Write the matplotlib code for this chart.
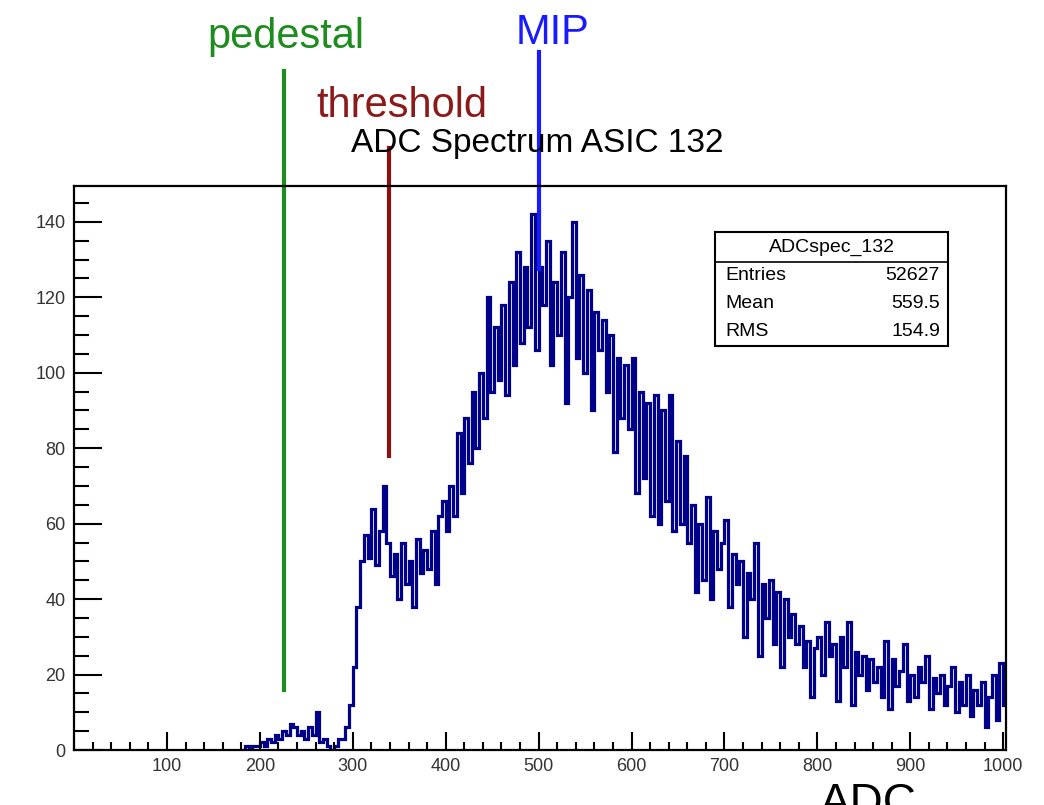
import numpy as np
import matplotlib
matplotlib.use("Agg")
import matplotlib.pyplot as plt
from matplotlib.ticker import MultipleLocator
from matplotlib.patches import Rectangle

plt.rcParams['font.family'] = ['Liberation Sans', 'DejaVu Sans']

# histogram: 4 ADC wide bins starting at 180
bin_width = 4
first_edge = 180
counts = [
    # 180 - 296
    0, 1, 0, 1, 1, 2, 1, 3, 2, 4, 3, 5, 4, 7, 6, 4, 5, 3, 6, 4,
    10, 2, 3, 1, 0, 1, 3, 3, 6, 12,
    # 300 - 396
    22, 38, 50, 57, 51, 64, 49, 58, 70, 55, 46, 52, 40, 55, 44, 50,
    38, 56, 47, 53, 48, 58, 44, 62, 66,
    # 400 - 496
    58, 70, 62, 84, 68, 88, 76, 95, 80, 100, 88, 120, 95, 112, 98, 118,
    94, 124, 102, 132, 108, 128, 112, 142, 106,
    # 500 - 596
    128, 118, 135, 102, 124, 110, 132, 92, 120, 140, 104, 126, 100, 122,
    90, 116, 106, 114, 95, 110, 79, 104, 88, 102, 85,
    # 600 - 696
    104, 68, 95, 72, 92, 62, 94, 60, 90, 66, 94, 58, 82, 60, 78, 55,
    65, 42, 60, 45, 67, 40, 58, 48, 55,
    # 700 - 796
    61, 38, 52, 44, 50, 30, 47, 40, 55, 25, 44, 35, 45, 28, 42, 22,
    40, 30, 36, 28, 33, 22, 29, 14, 27,
    # 800 - 896
    30, 20, 34, 25, 28, 13, 30, 22, 34, 12, 26, 20, 25, 16, 24, 18,
    22, 14, 29, 11, 24, 17, 21, 28, 13,
    # 900 - 1000
    20, 14, 22, 18, 25, 11, 19, 15, 20, 12, 17, 22, 10, 18, 12, 20,
    9, 16, 12, 18, 6, 14, 20, 8, 23, 12,
]
edges = first_edge + bin_width * np.arange(len(counts) + 1)

# marker lines (x position, y bottom, y top) in data units
pedestal_x, pedestal_y = 226, (16, 180)
threshold_x, threshold_y = 339, (78, 159.5)
mip_x, mip_y = 500, (127.5, 185)

stats_title = "ADCspec_132"
stats_names = ["Entries", "Mean", "RMS"]
stats_values = ["52627", "559.5", "154.9"]

fig = plt.figure(figsize=(10.44, 8.05), dpi=100)
ax = fig.add_axes([0.0709, 0.0683, 0.8927, 0.7007])

ax.stairs(counts, edges, color="#00008b", lw=2.3)
ax.set_xlim(0, 1003)
ax.set_ylim(0, 149.5)

ax.xaxis.set_major_locator(MultipleLocator(100))
ax.xaxis.set_minor_locator(MultipleLocator(20))
ax.yaxis.set_major_locator(MultipleLocator(20))
ax.yaxis.set_minor_locator(MultipleLocator(5))
ax.tick_params(which="both", direction="in", color="black", width=1.5,
               labelsize=13, labelcolor="#333333", pad=6)
ax.tick_params(axis="x", which="major", length=13)
ax.tick_params(axis="x", which="minor", length=6)
ax.tick_params(axis="y", which="major", length=20)
ax.tick_params(axis="y", which="minor", length=11)
ax.set_xticks([t for t in range(100, 1001, 100)])
ax.set_yticks([t for t in range(0, 141, 20)])
for s in ax.spines.values():
    s.set_linewidth(1.6)

# marker lines reach beyond the frame
ax.plot([pedestal_x, pedestal_x], pedestal_y, color="#1e8c1e", lw=3,
        clip_on=False)
ax.plot([threshold_x, threshold_x], threshold_y, color="#8b1010", lw=3,
        clip_on=False)
ax.plot([mip_x, mip_x], mip_y, color="#1a1aff", lw=3, clip_on=False)

fig.text(0.515, 1 - 152 / 805, "ADC Spectrum ASIC 132", ha="center",
         va="baseline", fontsize=24, color="black")
fig.text(286 / 1044, 1 - 48 / 805, "pedestal", ha="center", va="baseline",
         fontsize=30, color="#1e8c1e")
fig.text(402 / 1044, 1 - 117 / 805, "threshold", ha="center", va="baseline",
         fontsize=30, color="#8b1a1a")
fig.text(553 / 1044, 1 - 44 / 805, "MIP", ha="center", va="baseline",
         fontsize=30, color="#1a1aff")
fig.text(868 / 1044, 1 - 816 / 805, "ADC", ha="center", va="baseline",
         fontsize=33, color="black")

# stats box
bx0, bx1 = 715 / 1044, 948 / 1044
by1, by0 = 1 - 232 / 805, 1 - 346 / 805
fig.patches.append(Rectangle((bx0, by0), bx1 - bx0, by1 - by0,
                             transform=fig.transFigure, fill=True,
                             facecolor="white", edgecolor="black", lw=1.5))
fig.add_artist(plt.Line2D([bx0, bx1], [1 - 262 / 805] * 2,
                          transform=fig.transFigure, color="black", lw=1.2))
fig.text((bx0 + bx1) / 2, 1 - 247 / 805, stats_title, ha="center",
         va="center", fontsize=14)
for i, (n, v) in enumerate(zip(stats_names, stats_values)):
    yy = 1 - (275 + 28 * i) / 805
    fig.text(725 / 1044, yy, n, ha="left", va="center", fontsize=14)
    fig.text(940 / 1044, yy, v, ha="right", va="center", fontsize=14)

fig.savefig("out.png", dpi=100)
